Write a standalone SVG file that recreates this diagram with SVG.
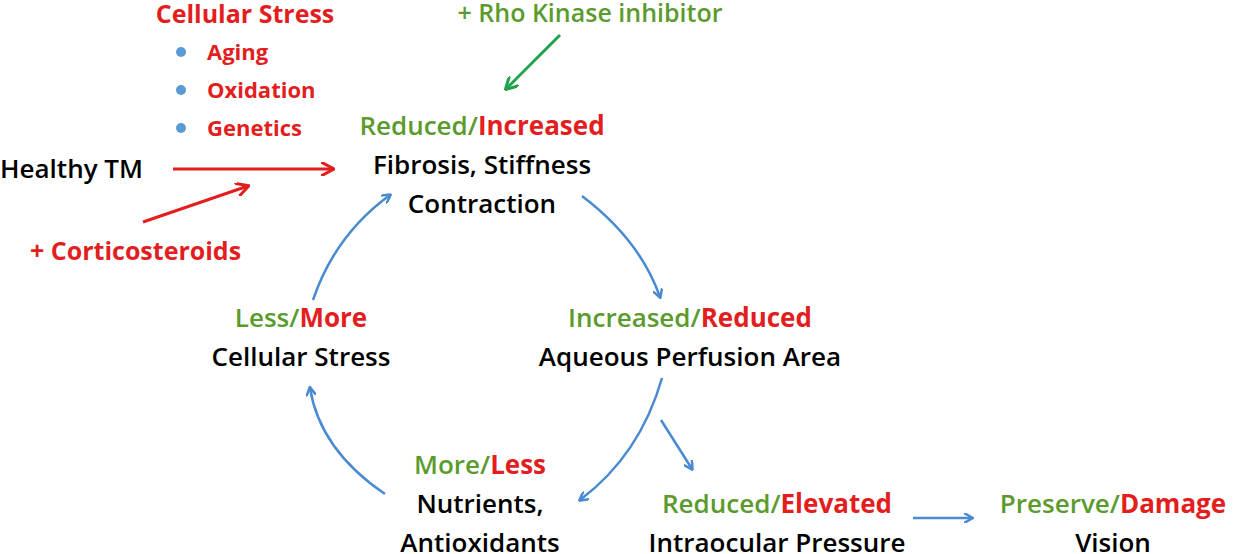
<svg xmlns="http://www.w3.org/2000/svg" width="1234" height="554" viewBox="0 0 1234 554">
<defs>
<style>
text{font-family:"Open Sans","Liberation Sans",sans-serif;font-size:26px;font-weight:600}
.g{fill:#5b9b2d}.r{fill:#e21e1e;font-weight:700}.k{fill:#000}
.m{text-anchor:middle}
.b{stroke:#4a8ad0;stroke-width:2.5;fill:none}
</style>
<marker id="ab" markerWidth="10" markerHeight="10" refX="8" refY="5" orient="auto" markerUnits="userSpaceOnUse"><path d="M0,0L9,5L0,10" fill="none" stroke="#4a8ad0" stroke-width="2.5"/></marker>
<marker id="ar" markerWidth="14" markerHeight="14" refX="12" refY="7" orient="auto" markerUnits="userSpaceOnUse"><path d="M0,0L13,7L0,14" fill="none" stroke="#e21e1e" stroke-width="3"/></marker>
<marker id="ag" markerWidth="14" markerHeight="14" refX="12" refY="7" orient="auto" markerUnits="userSpaceOnUse"><path d="M0,0L13,7L0,14" fill="none" stroke="#1fa34a" stroke-width="3"/></marker>
</defs>
<g id="stress-list">
<text class="r m" x="245" y="23" style="font-size:25px">Cellular Stress</text>
<circle cx="181" cy="52" r="5" fill="#5b9bd5"/><text class="r" x="207" y="60" style="font-size:22px">Aging</text>
<circle cx="181" cy="90" r="5" fill="#5b9bd5"/><text class="r" x="207" y="98" style="font-size:22px">Oxidation</text>
<circle cx="181" cy="128" r="5" fill="#5b9bd5"/><text class="r" x="207" y="136" style="font-size:22px">Genetics</text>
</g>
<g id="rho"><text class="g m" x="590" y="22" style="font-size:25px">+ Rho Kinase inhibitor</text></g>
<g id="healthy"><text class="k" x="0" y="178">Healthy TM</text></g>
<g id="cortico"><text class="r" x="30" y="260" style="font-size:25px">+ Corticosteroids</text></g>
<g id="fibrosis"><text class="m" x="482" y="135"><tspan class="g">Reduced/</tspan><tspan class="r">Increased</tspan></text>
<text class="k m" x="482" y="174">Fibrosis, Stiffness</text><text class="k m" x="482" y="213">Contraction</text></g>
<g id="aqueous"><text class="m" x="690" y="327"><tspan class="g">Increased/</tspan><tspan class="r">Reduced</tspan></text>
<text class="k m" x="690" y="366">Aqueous Perfusion Area</text></g>
<g id="cellular"><text class="m" x="301" y="327"><tspan class="g">Less/</tspan><tspan class="r">More</tspan></text>
<text class="k m" x="301" y="366">Cellular Stress</text></g>
<g id="nutrients"><text class="m" x="480" y="474"><tspan class="g">More/</tspan><tspan class="r">Less</tspan></text>
<text class="k m" x="480" y="513">Nutrients,</text><text class="k m" x="480" y="552">Antioxidants</text></g>
<g id="iop"><text class="m" x="777" y="513"><tspan class="g">Reduced/</tspan><tspan class="r">Elevated</tspan></text>
<text class="k m" x="777" y="552">Intraocular Pressure</text></g>
<g id="vision"><text class="m" x="1113" y="513"><tspan class="g">Preserve/</tspan><tspan class="r">Damage</tspan></text>
<text class="k m" x="1113" y="552">Vision</text></g>
<g id="connectors">
<line x1="173" y1="169" x2="333" y2="169" stroke="#e21e1e" stroke-width="3" marker-end="url(#ar)"/>
<line x1="143" y1="222" x2="248" y2="186" stroke="#e21e1e" stroke-width="3" marker-end="url(#ar)"/>
<line x1="560" y1="35" x2="506" y2="89" stroke="#1fa34a" stroke-width="3" marker-end="url(#ag)"/>
<path class="b" d="M582,196 Q640,240 660,297" marker-end="url(#ab)"/>
<path class="b" d="M662,378 Q640,455 580,500" marker-end="url(#ab)"/>
<line class="b" x1="661" y1="420" x2="692" y2="469" marker-end="url(#ab)"/>
<path class="b" d="M385,494 Q320,450 310,388" marker-end="url(#ab)"/>
<path class="b" d="M313,300 Q335,235 390,195" marker-end="url(#ab)"/>
<line class="b" x1="913" y1="518" x2="972" y2="518" marker-end="url(#ab)"/>
</g>
</svg>
